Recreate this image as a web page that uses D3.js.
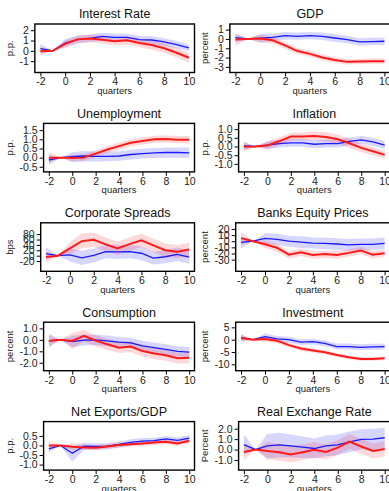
<!DOCTYPE html>
<meta charset="utf-8">
<script src="https://d3js.org/d3.v7.min.js"></script>
<style>
    body { margin: 0; background: #fff; }
    svg { font-family: "Liberation Sans", Arial, sans-serif; }
    .frame { fill: none; stroke: #000; stroke-width: 1.4; }
    .tick line { stroke: #000; stroke-width: 1; }
    .tick text { font-size: 10.5px; fill: #222; }
    .title { font-size: 12.5px; fill: #111; }
    .xlab, .ylab { font-size: 9.5px; fill: #222; }
    .blue_line { fill: none; stroke: #1a1aff; stroke-width: 1.3; }
    .red_line { fill: none; stroke: #ff1a1a; stroke-width: 2; }
    .blue_band { fill: #0000ff; opacity: 0.16; }
    .red_band { fill: #ff0000; opacity: 0.15; }
</style>
<div id="chart"></div>
<script>
// horizon, quarters
const quarters = [-2, -1, 0, 1, 2, 3, 4, 5, 6, 7, 8, 9, 10];
const xTicks = [-2, 0, 2, 4, 6, 8, 10];

const titles = ["Interest Rate", "GDP", "Unemployment", "Inflation", "Corporate Spreads",
    "Banks Equity Prices", "Consumption", "Investment", "Net Exports/GDP", "Real Exchange Rate"];
const yLabels = ["p.p.", "percent", "p.p.", "p.p.", "bps", "percent", "percent", "percent", "p.p.", "Percent"];
const yDomains = [[-2.1, 2.6], [-3.6, 1.6], [-0.78, 1.87], [-1.46, 1.33], [-58, 122],
    [-49, 30], [-2.69, 1.54], [-12.6, 7.1], [-1.29, 1.25], [-1.97, 2.68]];
const yTickValues = [[-1, 0, 1, 2], [-3, -2, -1, 0, 1], [-0.5, 0, 0.5, 1, 1.5], [-1, -0.5, 0, 0.5, 1],
    [-20, 0, 20, 40, 60, 80], [-30, -20, -10, 0, 10, 20], [-2, -1, 0, 1], [-10, -5, 0, 5],
    [-1, -0.5, 0, 0.5], [-1, 0, 1, 2]];
const yTickDecimals = [0, 0, 1, 1, 0, 0, 1, 0, 1, 1];

// Interest Rate
const rateBlue   = [0.22, 0, 0.76, 1.08, 1.2, 1.4, 1.3, 1.3, 1.08, 1.05, 0.86, 0.6, 0.29];
const rateBlueLo = [-0.25, 0, 0.4, 0.72, 0.85, 1.02, 0.93, 0.93, 0.72, 0.68, 0.5, 0.25, -0.05];
const rateBlueHi = [0.65, 0, 1.12, 1.45, 1.58, 1.75, 1.67, 1.66, 1.45, 1.42, 1.22, 0.95, 0.62];
const rateRed    = [-0.03, 0, 0.67, 1.11, 1.2, 1.08, 0.92, 1.02, 0.76, 0.57, 0.25, -0.19, -0.67];
const rateRedLo  = [-0.45, 0, 0.3, 0.75, 0.82, 0.68, 0.52, 0.6, 0.35, 0.14, -0.2, -0.65, -1.15];
const rateRedHi  = [0.4, 0, 1.02, 1.45, 1.58, 1.48, 1.32, 1.43, 1.17, 1.0, 0.7, 0.27, -0.2];

// GDP
const gdpBlue   = [0.14, 0, 0.07, 0.17, 0.35, 0.28, 0.35, 0.28, 0.1, -0.07, -0.32, -0.28, -0.25];
const gdpBlueLo = [-0.35, 0, -0.35, -0.22, -0.05, -0.1, -0.03, -0.12, -0.3, -0.47, -0.72, -0.68, -0.65];
const gdpBlueHi = [0.6, 0, 0.5, 0.57, 0.75, 0.68, 0.74, 0.68, 0.5, 0.33, 0.08, 0.12, 0.15];
const gdpRed    = [-0.07, 0, 0.04, -0.14, -0.7, -1.3, -1.6, -2.0, -2.25, -2.46, -2.42, -2.39, -2.39];
const gdpRedLo  = [-0.7, 0, -0.45, -0.5, -1.05, -1.62, -1.92, -2.32, -2.55, -2.75, -2.7, -2.67, -2.67];
const gdpRedHi  = [0.55, 0, 0.5, 0.22, -0.35, -0.98, -1.28, -1.68, -1.95, -2.17, -2.14, -2.11, -2.11];

// Unemployment
const unempBlue   = [-0.13, 0, 0.05, 0.09, 0.07, 0.07, 0.09, 0.17, 0.22, 0.26, 0.28, 0.28, 0.26];
const unempBlueLo = [-0.4, 0, -0.25, -0.2, -0.22, -0.2, -0.17, -0.1, -0.05, -0.02, 0.0, 0.0, -0.02];
const unempBlueHi = [0.15, 0, 0.3, 0.36, 0.33, 0.33, 0.35, 0.43, 0.48, 0.53, 0.56, 0.56, 0.55];
const unempRed    = [0, 0, -0.02, 0, 0.22, 0.44, 0.63, 0.81, 0.91, 1.0, 1.02, 0.98, 0.98];
const unempRedLo  = [-0.3, 0, -0.2, -0.18, 0.04, 0.26, 0.43, 0.61, 0.72, 0.8, 0.82, 0.78, 0.77];
const unempRedHi  = [0.3, 0, 0.17, 0.18, 0.4, 0.62, 0.82, 1.0, 1.1, 1.2, 1.22, 1.18, 1.18];

// Inflation
const inflBlue   = [0.04, 0, 0.08, 0.17, 0.21, 0.21, 0.13, 0.17, 0.17, 0.3, 0.38, 0.27, 0.08];
const inflBlueLo = [-0.2, 0, -0.15, -0.05, -0.02, -0.02, -0.1, -0.06, -0.06, 0.08, 0.16, 0.05, -0.15];
const inflBlueHi = [0.28, 0, 0.3, 0.39, 0.44, 0.44, 0.36, 0.4, 0.4, 0.52, 0.6, 0.5, 0.31];
const inflRed    = [-0.02, 0, 0.06, 0.3, 0.57, 0.57, 0.61, 0.55, 0.42, 0.19, -0.08, -0.27, -0.48];
const inflRedLo  = [-0.28, 0, -0.15, 0.08, 0.35, 0.35, 0.37, 0.27, 0.15, -0.08, -0.33, -0.5, -0.7];
const inflRedHi  = [0.24, 0, 0.27, 0.52, 0.79, 0.8, 0.85, 0.83, 0.69, 0.46, 0.17, -0.04, -0.26];

// Corporate Spreads
const spreadBlue   = [8, 0, 3, -8, 1, 15, 14, 15, 9, -9, -4, 5, -5];
const spreadBlueLo = [-15, 0, -22, -35, -25, -10, -12, -10, -16, -33, -28, -20, -30];
const spreadBlueHi = [30, 0, 27, 18, 27, 40, 40, 40, 34, 15, 20, 30, 20];
const spreadRed    = [-5, 0, 27, 54, 59, 42, 27, 43, 57, 38, 20, 15, 23];
const spreadRedLo  = [-25, 0, 5, 28, 32, 17, 3, 18, 32, 13, -5, -10, -2];
const spreadRedHi  = [15, 0, 50, 82, 86, 67, 51, 68, 82, 63, 45, 40, 48];

// Banks Equity Prices
const bankBlue   = [-2, 0, 4.5, 3, 0, -1.5, -3, -3.5, -4.5, -6, -5, -5, -3.5];
const bankBlueLo = [-12, 0, -4, -6, -9, -11, -12, -13, -14, -15.5, -14.5, -14.5, -13];
const bankBlueHi = [8, 0, 13, 12, 9, 8, 6, 6, 5, 3.5, 4.5, 4.5, 6];
const bankRed    = [5, 0, -5, -10.5, -22, -18, -22.5, -21, -22.5, -19, -15, -22, -19.5];
const bankRedLo  = [-6, 0, -11, -17, -28, -24, -28.5, -27, -28.5, -25, -21, -28, -25.5];
const bankRedHi  = [16, 0, 1, -4, -16, -12, -16.5, -15, -16.5, -13, -9, -16, -13.5];

// Consumption
const consBlue   = [-0.06, 0, -0.15, -0.03, 0, -0.09, -0.2, -0.27, -0.53, -0.68, -0.83, -1.0, -1.07];
const consBlueLo = [-0.65, 0, -0.65, -0.5, -0.45, -0.55, -0.65, -0.72, -0.98, -1.13, -1.28, -1.45, -1.52];
const consBlueHi = [0.55, 0, 0.35, 0.45, 0.45, 0.37, 0.25, 0.18, -0.08, -0.23, -0.38, -0.55, -0.62];
const consRed    = [-0.09, 0, -0.09, 0.36, -0.06, -0.39, -0.68, -0.59, -0.98, -1.19, -1.34, -1.6, -1.57];
const consRedLo  = [-0.6, 0, -0.8, -0.15, -0.55, -0.88, -1.15, -1.08, -1.45, -1.66, -1.82, -2.08, -2.05];
const consRedHi  = [0.4, 0, 0.6, 0.85, 0.43, 0.1, -0.2, -0.1, -0.5, -0.72, -0.87, -1.12, -1.1];

// Investment
const invBlue   = [0.8, 0, 1.25, 0.3, 0, -1, -0.8, -1.5, -2.8, -2.8, -3.1, -2.9, -2.8];
const invBlueLo = [-0.6, 0, 0, -0.9, -1.2, -2.2, -2.0, -2.7, -4.0, -4.0, -4.3, -4.1, -4.0];
const invBlueHi = [2.2, 0, 2.5, 1.5, 1.2, 0.2, 0.4, -0.3, -1.6, -1.6, -1.9, -1.7, -1.6];
const invRed    = [0.7, 0, 0.3, -0.4, -2.2, -3.6, -4.4, -5.1, -6.25, -7.1, -7.8, -7.8, -7.5];
const invRedLo  = [-0.8, 0, -0.7, -1.3, -3.1, -4.5, -5.3, -5.9, -7.0, -7.9, -8.6, -8.6, -8.3];
const invRedHi  = [2.2, 0, 1.3, 0.5, -1.3, -2.7, -3.5, -4.3, -5.5, -6.3, -7.0, -7.0, -6.7];

// Net Exports/GDP
const nxBlue   = [-0.18, 0, -0.41, -0.04, -0.05, -0.04, 0.05, 0.16, 0.23, 0.25, 0.34, 0.27, 0.39];
const nxBlueLo = [-0.38, 0, -0.85, -0.22, -0.22, -0.2, -0.1, 0.0, 0.07, 0.09, 0.18, 0.11, 0.23];
const nxBlueHi = [0.02, 0, -0.05, 0.14, 0.12, 0.12, 0.2, 0.32, 0.39, 0.41, 0.5, 0.43, 0.55];
const nxRed    = [0, 0, -0.07, -0.1, -0.12, -0.05, 0.02, 0.07, 0.1, 0.16, 0.2, 0.1, 0.25];
const nxRedLo  = [-0.2, 0, -0.25, -0.25, -0.25, -0.18, -0.11, -0.06, -0.03, 0.03, 0.07, -0.03, 0.12];
const nxRedHi  = [0.2, 0, 0.11, 0.05, 0.01, 0.08, 0.15, 0.2, 0.23, 0.29, 0.33, 0.23, 0.38];

// Real Exchange Rate
const rerBlue   = [0.48, 0, 0.35, 0.45, 0.35, 0.23, 0.1, 0.35, 0.45, 0.74, 0.97, 1.0, 1.13];
const rerBlueLo = [-0.5, 0, -0.85, -0.75, -0.75, -0.8, -0.85, -0.65, -0.55, -0.25, 0, 0.0, 0.15];
const rerBlueHi = [1.45, 0, 1.5, 1.6, 1.45, 1.25, 1.05, 1.35, 1.45, 1.72, 1.95, 2.0, 2.1];
const rerRed    = [-0.23, 0, -0.13, -0.26, -0.48, -0.26, -0.03, -0.23, 0.19, 0.77, 0.29, -0.13, 0.06];
const rerRedLo  = [-1.0, 0, -0.95, -1.05, -1.25, -1.0, -0.75, -0.95, -0.5, 0.05, -0.4, -0.85, -0.65];
const rerRedHi  = [0.5, 0, 0.7, 0.55, 0.3, 0.5, 0.7, 0.5, 0.9, 1.5, 1.0, 0.6, 0.77];

const series = [
    [rateBlue, rateBlueLo, rateBlueHi, rateRed, rateRedLo, rateRedHi],
    [gdpBlue, gdpBlueLo, gdpBlueHi, gdpRed, gdpRedLo, gdpRedHi],
    [unempBlue, unempBlueLo, unempBlueHi, unempRed, unempRedLo, unempRedHi],
    [inflBlue, inflBlueLo, inflBlueHi, inflRed, inflRedLo, inflRedHi],
    [spreadBlue, spreadBlueLo, spreadBlueHi, spreadRed, spreadRedLo, spreadRedHi],
    [bankBlue, bankBlueLo, bankBlueHi, bankRed, bankRedLo, bankRedHi],
    [consBlue, consBlueLo, consBlueHi, consRed, consRedLo, consRedHi],
    [invBlue, invBlueLo, invBlueHi, invRed, invRedLo, invRedHi],
    [nxBlue, nxBlueLo, nxBlueHi, nxRed, nxRedLo, nxRedHi],
    [rerBlue, rerBlueLo, rerBlueHi, rerRed, rerRedLo, rerRedHi]
];

const W = 389, H = 491;
const colLeft = [0, 195];
const colRight = [194.5, 390];
const rowTop = 24, rowStep = 99.4, frameH = 48.5;

const svg = d3.select("#chart").append("svg")
    .attr("width", W)
    .attr("height", H);

// measure the widest y tick label, the frame sits right of it
const probe = svg.append("text").attr("class", "tick").append("tspan")
    .style("font-size", "10.5px");
function textWidth(s) {
    probe.text(s);
    return probe.node().getComputedTextLength();
}

titles.forEach(function(title, i) {
    const col = i % 2, row = Math.floor(i / 2);
    const dec = yTickDecimals[i];
    const fmt = v => v.toFixed(dec);
    const maxW = d3.max(yTickValues[i], v => textWidth(fmt(v)));

    const left = colLeft[col] + 25.5 + maxW;
    const right = colRight[col];
    const top = rowTop + row * rowStep;
    const bottom = top + frameH;

    const x = d3.scaleLinear().domain([-2.45, 10.45]).range([left, right]);
    const y = d3.scaleLinear().domain(yDomains[i]).range([bottom, top]);

    const g = svg.append("g");
    const [b, bLo, bHi, r, rLo, rHi] = series[i];

    const band = (lo, hi) => d3.area()
        .x((d, k) => x(quarters[k]))
        .y0((d, k) => y(lo[k]))
        .y1((d, k) => y(hi[k]))(quarters);
    const line = vals => d3.line()
        .x((d, k) => x(quarters[k]))
        .y((d, k) => y(vals[k]))(quarters);

    g.append("path").attr("class", "blue_band").attr("d", band(bLo, bHi));
    g.append("path").attr("class", "red_band").attr("d", band(rLo, rHi));
    g.append("path").attr("class", "blue_line").attr("d", line(b));
    g.append("path").attr("class", "red_line").attr("d", line(r));

    g.append("g")
        .attr("transform", "translate(0," + bottom + ")")
        .call(d3.axisBottom(x).tickValues(xTicks).tickSize(4).tickPadding(1.5).tickFormat(d => String(d)))
        .call(a => a.select(".domain").remove())
        .call(a => a.selectAll("text").attr("font-family", null).attr("font-size", null));

    g.append("g")
        .attr("transform", "translate(" + left + ",0)")
        .call(d3.axisLeft(y).tickValues(yTickValues[i]).tickSize(4).tickPadding(2).tickFormat(fmt))
        .call(a => a.select(".domain").remove())
        .call(a => a.selectAll("text").attr("font-family", null).attr("font-size", null));

    g.append("rect").attr("class", "frame")
        .attr("x", left).attr("y", top)
        .attr("width", right - left).attr("height", frameH);

    g.append("text").attr("class", "title")
        .attr("x", (left + right) / 2).attr("y", top - 5.7)
        .attr("text-anchor", "middle").text(title);

    g.append("text").attr("class", "xlab")
        .attr("x", (left + right) / 2).attr("y", bottom + 21.5)
        .attr("text-anchor", "middle").text("quarters");

    g.append("text").attr("class", "ylab")
        .attr("transform", "translate(" + (colLeft[col] + 13) + "," + (top + frameH / 2) + ") rotate(-90)")
        .attr("text-anchor", "middle").text(yLabels[i]);
});

probe.node().parentNode.remove();
</script>
